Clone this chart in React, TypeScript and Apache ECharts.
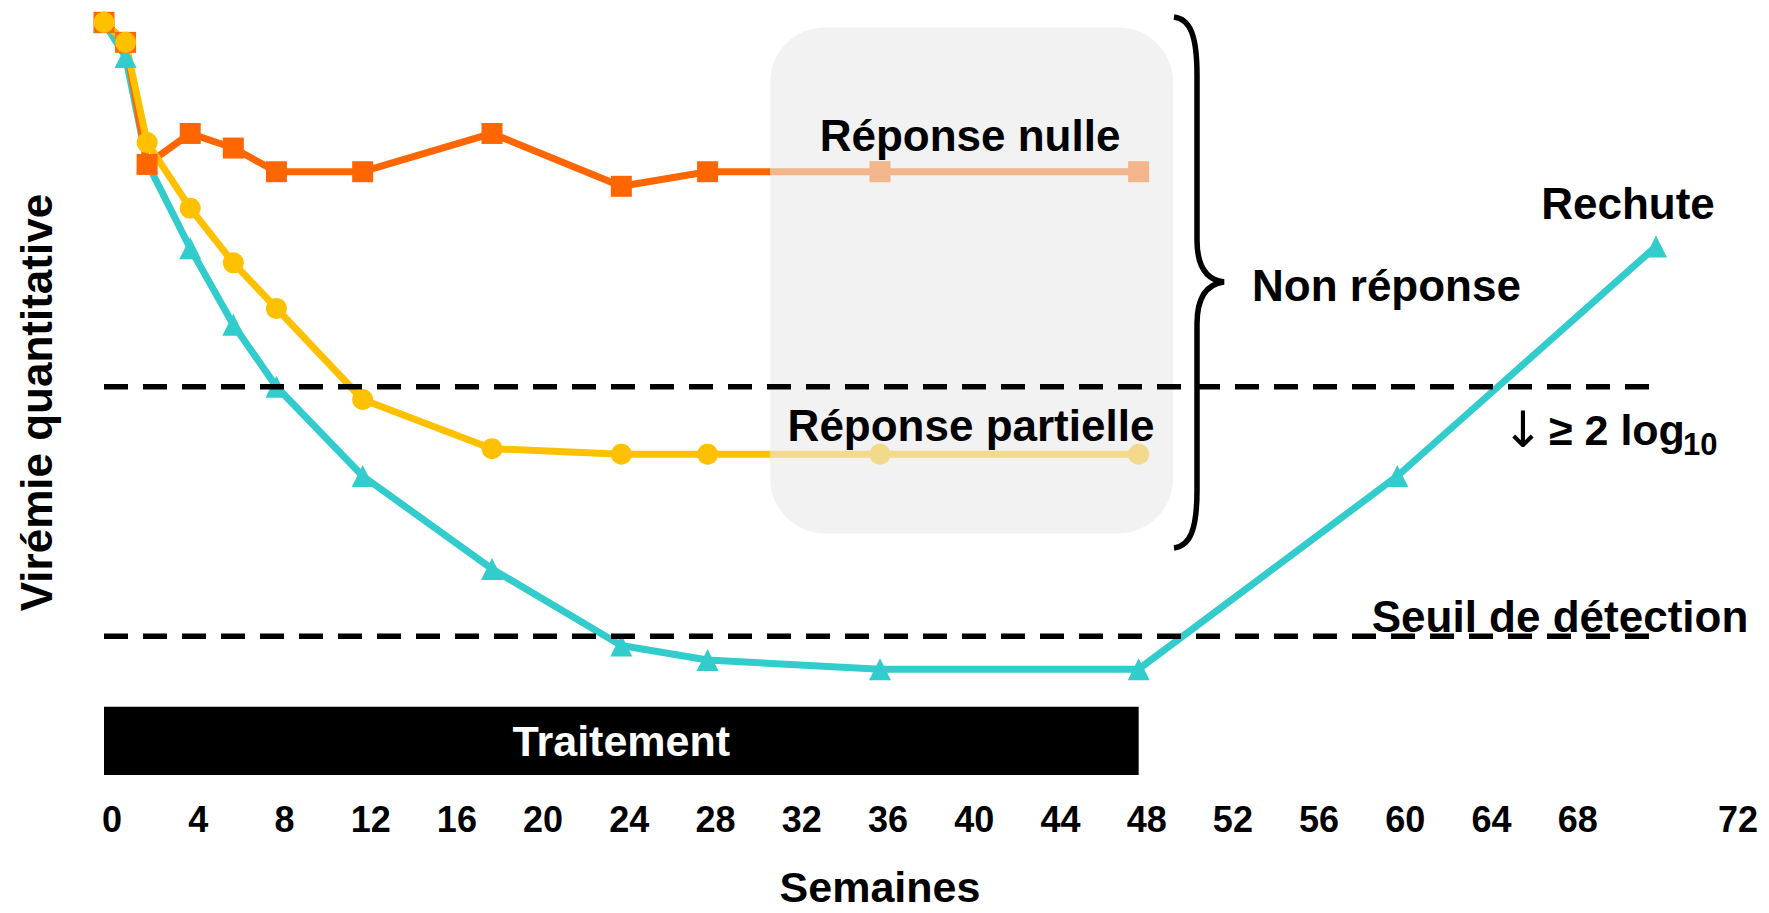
import { useEffect, useRef } from 'react';
import * as echarts from 'echarts';

// ---- Data (weeks on x, log10 viral load on y) ----
const weeksShort = [0, 1, 2, 4, 6, 8, 12, 18, 24, 28, 36, 48];
const weeksRechute = [0, 1, 2, 4, 6, 8, 12, 18, 24, 28, 36, 48, 60, 72];
const reponseNulle = [7.0, 6.89, 6.22, 6.39, 6.31, 6.18, 6.18, 6.39, 6.10, 6.18, 6.18, 6.18];
const reponsePartielle = [7.0, 6.89, 6.34, 5.98, 5.68, 5.43, 4.93, 4.66, 4.63, 4.63, 4.63, 4.63];
const rechute = [7.0, 6.81, 6.23, 5.76, 5.34, 5.0, 4.51, 4.0, 3.58, 3.5, 3.45, 3.45, 4.51, 5.77];
const seuil2Log = 5.0;
const seuilDetection = 3.63;
const dashedEndWeek = 72.2;
const traitement = { start: 0, end: 48, label: 'Traitement' };
const traitementTop = 3.244;
const greyBox = { x0: 30.9, x1: 49.6, y0: 6.972, y1: 4.195 };
const xMin = 0;
const xMax = 72;
const xInterval = 4;
const yMin = 2.869;
const yMax = 7.1;

const FONT = "'Liberation Sans', Arial, Helvetica, sans-serif";

const bracePath =
  'M1174,17 C1190,19 1197,35 1197,75 L1197,240 C1197,268 1207,280 1224,282 C1207,284 1197,296 1197,324 L1197,490 C1197,530 1190,546 1174,548';

let registered = false;

export default function App() {
  const ref = useRef<HTMLDivElement | null>(null);

  useEffect(() => {
    document.body.style.margin = '0';
    if (!registered) {
      echarts.graphic.registerShape('brace', echarts.graphic.extendPath(bracePath, {}) as any);
      registered = true;
    }
    const chart = echarts.init(ref.current as HTMLDivElement, undefined, { renderer: 'svg' });

    const pair = (xs: number[], ys: number[]) => xs.map((x, i) => [x, ys[i]]);
    const tickStyle = { fontSize: 36, fontWeight: 'bold', fontFamily: FONT, color: '#000' };

    chart.setOption({
      animation: false,
      backgroundColor: '#ffffff',
      grid: { left: 104, right: 113, top: 4.1, bottom: 116.9, containLabel: false },
      xAxis: {
        type: 'value',
        min: xMin,
        max: xMax,
        interval: xInterval,
        axisLine: { show: false },
        axisTick: { show: false },
        splitLine: { show: false },
        axisLabel: {
          margin: 26,
          ...tickStyle,
          formatter: (v: number) => (v === 72 ? '{far|72}' : '{n|' + v + '}'),
          rich: {
            n: { ...tickStyle, padding: [0, 0, 0, 16] },
            far: { ...tickStyle, padding: [0, 0, 0, 164] },
          },
        },
        name: 'Semaines',
        nameLocation: 'middle',
        nameGap: 90,
        nameTextStyle: { fontSize: 43, fontWeight: 'bold', fontFamily: FONT, color: '#000' },
      },
      yAxis: {
        type: 'value',
        min: yMin,
        max: yMax,
        axisLine: { show: false },
        axisTick: { show: false },
        axisLabel: { show: false },
        splitLine: { show: false },
        name: 'Virémie quantitative',
        nameLocation: 'middle',
        nameRotate: 90,
        nameGap: 46,
        nameTextStyle: {
          fontSize: 44,
          fontWeight: 'bold',
          fontFamily: FONT,
          color: '#000',
          padding: [0, 26, 0, 0],
        },
      },
      series: [
        {
          name: 'Rechute',
          type: 'line',
          data: pair(weeksRechute, rechute),
          symbol: 'triangle',
          symbolSize: 22,
          color: '#33CCCC',
          lineStyle: { width: 7, color: '#33CCCC' },
          itemStyle: { color: '#33CCCC' },
          z: 2,
        },
        {
          name: 'Réponse nulle',
          type: 'line',
          data: pair(weeksShort, reponseNulle),
          symbol: 'rect',
          symbolSize: 21,
          color: '#FF6600',
          lineStyle: { width: 7, color: '#FF6600' },
          itemStyle: { color: '#FF6600' },
          z: 2,
        },
        {
          name: 'Réponse partielle',
          type: 'line',
          data: pair(weeksShort, reponsePartielle),
          symbol: 'circle',
          symbolSize: 21,
          color: '#FFC000',
          lineStyle: { width: 7, color: '#FFC000' },
          itemStyle: { color: '#FFC000' },
          z: 2,
        },
        {
          name: 'seuil2log',
          type: 'line',
          data: [[0, seuil2Log], [dashedEndWeek, seuil2Log]],
          symbol: 'none',
          lineStyle: { width: 5.5, color: '#000', type: [24, 15] },
          z: 5,
          silent: true,
          markArea: {
            silent: true,
            itemStyle: { color: '#000' },
            label: {
              show: true,
              position: 'inside',
              color: '#fff',
              fontSize: 43,
              fontWeight: 'bold',
              fontFamily: FONT,
            },
            data: [[
              { name: traitement.label, xAxis: traitement.start, yAxis: yMin },
              { xAxis: traitement.end, yAxis: traitementTop },
            ]],
          },
        },
        {
          name: 'seuilDetection',
          type: 'line',
          data: [[0, seuilDetection], [dashedEndWeek, seuilDetection]],
          symbol: 'none',
          lineStyle: { width: 5.5, color: '#000', type: [24, 15] },
          z: 5,
          silent: true,
        },
      ],
    });

    const p0 = chart.convertToPixel({ gridIndex: 0 }, [greyBox.x0, greyBox.y0]) as number[];
    const p1 = chart.convertToPixel({ gridIndex: 0 }, [greyBox.x1, greyBox.y1]) as number[];

    const txt = (
      text: string,
      x: number,
      y: number,
      align: string,
      size = 44,
      weight: any = 'bold',
      family: string = FONT
    ) => ({
      type: 'text',
      x,
      y,
      z: 20,
      silent: true,
      style: {
        text,
        fill: '#000',
        fontSize: size,
        fontWeight: weight,
        fontFamily: family,
        align,
        verticalAlign: 'middle',
      },
    });

    chart.setOption({
      graphic: [
        {
          type: 'rect',
          z: 3,
          silent: true,
          shape: { x: p0[0], y: p0[1], width: p1[0] - p0[0], height: p1[1] - p0[1], r: 55 },
          style: { fill: 'rgba(233,233,233,0.6)' },
        },
        {
          type: 'brace',
          x: 0,
          y: 0,
          z: 20,
          silent: true,
          style: { stroke: '#000', lineWidth: 5.5, fill: null },
        },
        txt('Réponse nulle', 970, 135, 'center'),
        txt('Réponse partielle', 971, 425, 'center'),
        txt('Non réponse', 1252, 285, 'left'),
        txt('Rechute', 1628, 203, 'center'),
        txt('Seuil de détection', 1560, 616, 'center'),
        txt('↓', 1523, 430, 'center', 50, 'normal', "'DejaVu Sans', sans-serif"),
        txt('≥ 2 log', 1549, 430, 'left', 43, 'bold'),
        txt('10', 1683, 444, 'left', 31, 'bold'),
      ],
    });

    return () => {
      chart.dispose();
    };
  }, []);

  return (
    <div
      ref={ref}
      style={{ position: 'fixed', left: 0, top: 0, width: '1769px', height: '913px', background: '#fff' }}
    />
  );
}
